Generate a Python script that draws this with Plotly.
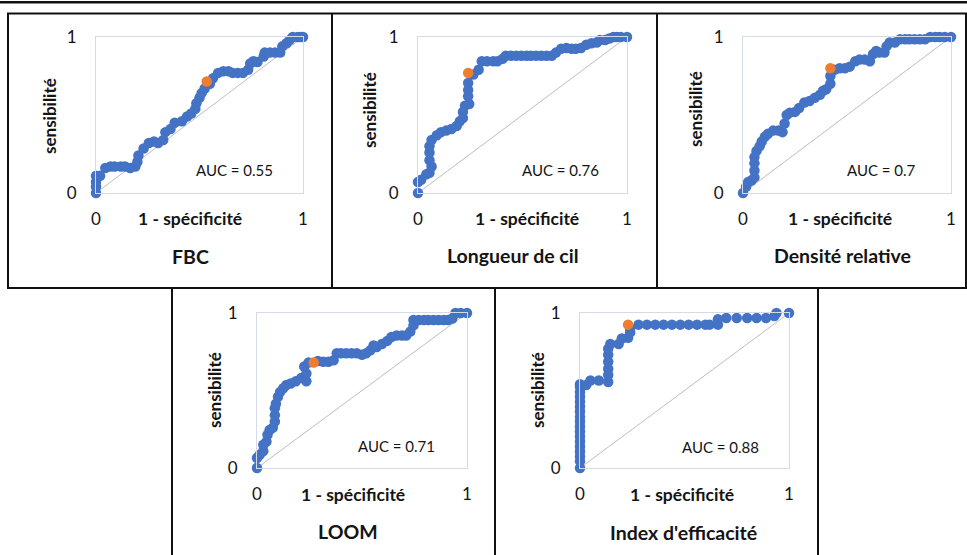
import plotly.graph_objects as go

W, H = 967, 555

# ---------------- data ----------------
panel_names = ["FBC", "Longueur de cil", "Densité relative", "LOOM", "Index d'efficacité"]
auc_labels = ["AUC = 0.55", "AUC = 0.76", "AUC = 0.7", "AUC = 0.71", "AUC = 0.88"]
x_title = "1 - spécificité"
y_title = "sensibilité"
tick_vals = [0, 1]
tick_text = ["0", "1"]

fbc_fpr = [0, 0, 0, 0, 0.02, 0.045, 0.07, 0.09, 0.12, 0.14, 0.165, 0.19, 0.20, 0.205, 0.23, 0.255,
           0.28, 0.30, 0.325, 0.335, 0.36, 0.38, 0.415, 0.44, 0.46, 0.48, 0.485, 0.50, 0.51, 0.525,
           0.55, 0.565, 0.59, 0.615, 0.64, 0.66, 0.685, 0.71, 0.735, 0.745, 0.76, 0.78, 0.81, 0.815,
           0.84, 0.865, 0.89, 0.90, 0.92, 0.935, 0.95, 0.975, 0.99, 1.0]
fbc_tpr = [0, 0.04, 0.07, 0.11, 0.11, 0.16, 0.17, 0.17, 0.17, 0.17, 0.16, 0.17, 0.20, 0.24, 0.285, 0.32,
           0.33, 0.32, 0.34, 0.39, 0.41, 0.45, 0.46, 0.49, 0.51, 0.54, 0.575, 0.61, 0.64, 0.67,
           0.70, 0.735, 0.77, 0.78, 0.78, 0.77, 0.77, 0.77, 0.79, 0.83, 0.845, 0.84, 0.875, 0.90,
           0.90, 0.90, 0.90, 0.94, 0.96, 0.98, 1.0, 1.0, 1.0, 1.0]

cil_fpr = [0, 0, 0.015, 0.04, 0.055, 0.065, 0.055, 0.055, 0.055, 0.065, 0.09, 0.11, 0.135, 0.16, 0.185,
           0.20, 0.215, 0.215, 0.225, 0.245, 0.24, 0.24, 0.24, 0.265, 0.29, 0.305, 0.33, 0.36, 0.38,
           0.405, 0.42, 0.445, 0.47, 0.495, 0.52, 0.54, 0.565, 0.59, 0.615, 0.64, 0.66, 0.685, 0.71,
           0.735, 0.755, 0.78, 0.805, 0.83, 0.855, 0.87, 0.895, 0.915, 0.935, 0.95, 0.97, 1.0]
cil_tpr = [0, 0.07, 0.085, 0.12, 0.13, 0.17, 0.21, 0.26, 0.30, 0.34, 0.37, 0.39, 0.40, 0.41, 0.43,
           0.46, 0.48, 0.52, 0.56, 0.57, 0.62, 0.66, 0.705, 0.76, 0.79, 0.845, 0.845, 0.845, 0.845,
           0.86, 0.88, 0.88, 0.88, 0.88, 0.88, 0.88, 0.88, 0.88, 0.88, 0.88, 0.90, 0.925, 0.93,
           0.925, 0.925, 0.93, 0.95, 0.96, 0.965, 0.98, 0.98, 0.99, 1.0, 1.0, 1.0, 1.0]

den_fpr = [0, 0.015, 0.025, 0.04, 0.055, 0.055, 0.055, 0.055, 0.065, 0.08, 0.09, 0.105, 0.12, 0.145,
           0.17, 0.19, 0.20, 0.21, 0.225, 0.25, 0.27, 0.295, 0.32, 0.345, 0.37, 0.385, 0.40, 0.42,
           0.42, 0.44, 0.465, 0.49, 0.513, 0.54, 0.56, 0.585, 0.61, 0.625, 0.64, 0.655, 0.68, 0.69,
           0.705, 0.73, 0.755, 0.78, 0.80, 0.825, 0.85, 0.875, 0.90, 0.925, 0.945, 0.97, 1.0]
den_tpr = [0, 0.04, 0.07, 0.08, 0.10, 0.145, 0.19, 0.23, 0.27, 0.30, 0.33, 0.36, 0.38, 0.40,
           0.40, 0.39, 0.445, 0.50, 0.515, 0.52, 0.545, 0.58, 0.59, 0.61, 0.63, 0.655, 0.665, 0.70,
           0.75, 0.79, 0.80, 0.80, 0.81, 0.845, 0.855, 0.855, 0.845, 0.89, 0.91, 0.90, 0.90, 0.94,
           0.965, 0.965, 0.985, 0.985, 0.985, 0.985, 0.985, 0.985, 1.0, 1.0, 1.0, 1.0, 1.0]

loom_fpr = [0, 0, 0.013, 0.03, 0.03, 0.045, 0.05, 0.06, 0.075, 0.085, 0.085, 0.085, 0.09, 0.10, 0.11,
            0.125, 0.14, 0.16, 0.185, 0.21, 0.235, 0.235, 0.225, 0.245, 0.29, 0.315, 0.34, 0.365,
            0.38, 0.40, 0.425, 0.45, 0.475, 0.50, 0.52, 0.54, 0.555, 0.57, 0.595, 0.62, 0.64, 0.665,
            0.69, 0.71, 0.73, 0.745, 0.745, 0.77, 0.795, 0.815, 0.84, 0.865, 0.89, 0.91, 0.93, 0.945,
            0.97, 1.0]
loom_tpr = [0, 0.065, 0.085, 0.11, 0.15, 0.17, 0.215, 0.245, 0.26, 0.30, 0.34, 0.385, 0.415, 0.46, 0.49,
            0.515, 0.535, 0.545, 0.56, 0.58, 0.56, 0.61, 0.655, 0.68, 0.69, 0.685, 0.685, 0.695,
            0.74, 0.74, 0.74, 0.74, 0.74, 0.73, 0.74, 0.76, 0.79, 0.78, 0.80, 0.82, 0.845, 0.855,
            0.855, 0.855, 0.88, 0.92, 0.955, 0.955, 0.955, 0.955, 0.955, 0.955, 0.955, 0.955, 0.965, 1.0,
            1.0, 1.0]

eff_fpr = [0, 0, 0, 0, 0, 0, 0, 0, 0, 0, 0, 0, 0, 0, 0, 0, 0, 0, 0.03, 0.05, 0.09, 0.135, 0.135, 0.135,
           0.135, 0.135, 0.135, 0.145, 0.185, 0.20, 0.23, 0.24, 0.24, 0.28, 0.32, 0.36, 0.40, 0.44,
           0.48, 0.52, 0.56, 0.60, 0.62, 0.66, 0.66, 0.70, 0.75, 0.80, 0.845, 0.89, 0.93, 0.94, 1.0]
eff_tpr = [0, 0.043, 0.075, 0.107, 0.139, 0.171, 0.203, 0.236, 0.268, 0.30, 0.33, 0.364, 0.396, 0.428,
           0.46, 0.49, 0.525, 0.54, 0.535, 0.565, 0.565, 0.555, 0.60, 0.64, 0.685, 0.73, 0.77, 0.80,
           0.80, 0.835, 0.84, 0.875, 0.90, 0.925, 0.925, 0.925, 0.925, 0.925, 0.925, 0.925, 0.925,
           0.925, 0.925, 0.925, 0.96, 0.968, 0.968, 0.968, 0.968, 0.968, 0.98, 1.0, 1.0]

roc_fpr = [fbc_fpr, cil_fpr, den_fpr, loom_fpr, eff_fpr]
roc_tpr = [fbc_tpr, cil_tpr, den_tpr, loom_tpr, eff_tpr]
opt_fpr = [0.535, 0.24, 0.42, 0.27, 0.23]
opt_tpr = [0.715, 0.77, 0.80, 0.68, 0.925]
diag = [0, 1]

# ---------------- layout geometry (pixels) ----------------
plot_px = [(96, 37, 303, 193), (418, 37, 627, 193), (743, 37, 951, 193),
           (257, 313, 467, 468), (580, 313, 789, 468)]
xtitle_px = [(190, 219), (527, 219), (840, 219), (353, 494), (682, 494)]
ytitle_px = [(50, 116), (370, 110), (695, 109), (214, 390), (537, 390)]
ptitle_px = [(190, 257), (513, 256), (842, 256), (348, 531), (683, 532)]
auc_pos = [(0.67, 0.15), (0.68, 0.15), (0.665, 0.148), (0.665, 0.14), (0.67, 0.135)]

BLUE = "#4472C4"
ORANGE = "#ED7D31"
FONT = "Lato"
TXT = "#141414"


def px(x):
    return x / W


def py(y):
    return 1 - y / H


fig = go.Figure()
annotations = []
for i in range(5):
    n = "" if i == 0 else str(i + 1)
    xa, ya = "x" + n, "y" + n
    fig.add_trace(go.Scatter(x=diag, y=diag, mode="lines", line=dict(color="#BDBDBD", width=1),
                             xaxis=xa, yaxis=ya, showlegend=False, hoverinfo="skip"))
    fig.add_trace(go.Scatter(x=roc_fpr[i], y=roc_tpr[i], mode="markers", cliponaxis=False,
                             marker=dict(color=BLUE, size=10.5, line=dict(width=0)),
                             xaxis=xa, yaxis=ya, showlegend=False))
    fig.add_trace(go.Scatter(x=[opt_fpr[i]], y=[opt_tpr[i]], mode="markers", cliponaxis=False,
                             marker=dict(color=ORANGE, size=10.5, line=dict(width=0)),
                             xaxis=xa, yaxis=ya, showlegend=False))
    x0, y0, x1, y1 = plot_px[i]
    axcommon = dict(range=[0, 1], tickvals=tick_vals, ticktext=tick_text, showgrid=False,
                    zeroline=False, showline=True, mirror=True, linecolor="#D5DAE6", linewidth=1,
                    tickfont=dict(family=FONT, size=17, color=TXT), ticks="", automargin=False)
    fig.update_layout(**{
        ("xaxis" + n): dict(domain=[px(x0), px(x1)], anchor=ya, ticklabelstandoff=11, **axcommon),
        ("yaxis" + n): dict(domain=[py(y1), py(y0)], anchor=xa, ticklabelstandoff=15, **axcommon),
    })
    common_ann = dict(showarrow=False, xanchor="center", yanchor="middle")
    annotations.append(dict(x=auc_pos[i][0], y=auc_pos[i][1], xref=xa, yref=ya, text=auc_labels[i],
                            font=dict(family=FONT, size=15, color=TXT), **common_ann))
    annotations.append(dict(x=px(xtitle_px[i][0]), y=py(xtitle_px[i][1]), xref="paper", yref="paper",
                            text="<b>" + x_title + "</b>",
                            font=dict(family=FONT, size=17.5, color=TXT), **common_ann))
    annotations.append(dict(x=px(ytitle_px[i][0]), y=py(ytitle_px[i][1]), xref="paper", yref="paper",
                            text="<b>" + y_title + "</b>", textangle=-90,
                            font=dict(family=FONT, size=17, color=TXT), **common_ann))
    annotations.append(dict(x=px(ptitle_px[i][0]), y=py(ptitle_px[i][1]), xref="paper", yref="paper",
                            text="<b>" + panel_names[i] + "</b>",
                            font=dict(family=FONT, size=19.5, color=TXT), **common_ann))

# frame lines
line_style = dict(color="#111111", width=2)
shapes = [
    dict(type="line", xref="paper", yref="paper", x0=0, x1=1, y0=py(2.3), y1=py(2.3),
         line=dict(color="#111111", width=2.5)),
    dict(type="rect", xref="paper", yref="paper", x0=px(8), x1=px(966), y0=py(288), y1=py(13.5),
         line=line_style),
    dict(type="line", xref="paper", yref="paper", x0=px(332), x1=px(332), y0=py(288), y1=py(13.5),
         line=line_style),
    dict(type="line", xref="paper", yref="paper", x0=px(657), x1=px(657), y0=py(288), y1=py(13.5),
         line=line_style),
    dict(type="line", xref="paper", yref="paper", x0=px(172), x1=px(172), y0=py(288), y1=0,
         line=line_style),
    dict(type="line", xref="paper", yref="paper", x0=px(495), x1=px(495), y0=py(288), y1=0,
         line=line_style),
    dict(type="line", xref="paper", yref="paper", x0=px(818), x1=px(818), y0=py(288), y1=0,
         line=line_style),
]

fig.update_layout(width=W, height=H,
                  margin=dict(l=0, r=0, t=0, b=0, pad=0, autoexpand=False),
                  paper_bgcolor="white", plot_bgcolor="white",
                  annotations=annotations, shapes=shapes, showlegend=False)

fig.write_html("out.html", config={"displayModeBar": False},
               post_script="document.body.style.margin='0px';document.body.style.overflow='hidden';")
